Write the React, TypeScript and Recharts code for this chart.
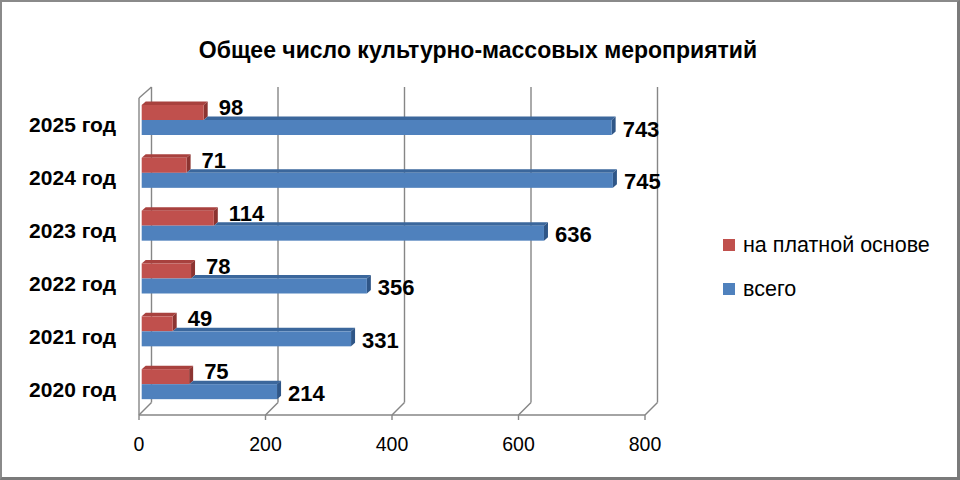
import React from 'react';
import { BarChart, Bar, XAxis, YAxis, CartesianGrid, LabelList } from 'recharts';

const years = ['2025 год', '2024 год', '2023 год', '2022 год', '2021 год', '2020 год'];
const paidValues = [98, 71, 114, 78, 49, 75];
const totalValues = [743, 745, 636, 356, 331, 214];
const xTicks = [0, 200, 400, 600, 800];
const paidName = 'на платной основе';
const totalName = 'всего';
const title = 'Общее число культурно-массовых мероприятий';

const data = years.map((year, i) => ({ year, paid: paidValues[i], total: totalValues[i] }));

const FONT = '"Liberation Sans", Arial, sans-serif';
const RED = '#C0504D';
const RED_TOP = '#A8413E';
const RED_SIDE = '#8C3431';
const BLUE = '#4F81BD';
const BLUE_TOP = '#3B679C';
const BLUE_SIDE = '#2F5687';
const GRID = '#868686';
const SHIFT_X = 2.7;
const SHIFT_Y = -4;
const DX = 4;
const DY = 3.5;

const PaidShape = (p: any) => {
  const x = p.x + SHIFT_X;
  const y = p.y + SHIFT_Y;
  const w = p.width;
  const h = p.height;
  return (
    <g>
      <polygon points={`${x},${y} ${x + DX},${y - DY} ${x + w + DX},${y - DY} ${x + w},${y}`} fill={RED_TOP} />
      <polygon points={`${x + w},${y} ${x + w + DX},${y - DY} ${x + w + DX},${y + h - DY} ${x + w},${y + h}`} fill={RED_SIDE} />
      <rect x={x} y={y} width={w} height={h} fill={RED} />
    </g>
  );
};

const TotalShape = (p: any) => {
  const x = p.x + SHIFT_X;
  const y = p.y + SHIFT_Y;
  const w = p.width;
  const h = p.height;
  const pl = p.payload || {};
  const redEnd = pl.total ? x + (w * pl.paid) / pl.total : x;
  return (
    <g>
      <polygon points={`${redEnd},${y} ${redEnd + DX},${y - DY} ${x + w + DX},${y - DY} ${x + w},${y}`} fill={BLUE_TOP} />
      <polygon points={`${x + w},${y} ${x + w + DX},${y - DY} ${x + w + DX},${y + h - DY} ${x + w},${y + h}`} fill={BLUE_SIDE} />
      <rect x={x} y={y} width={w} height={h} fill={BLUE} />
    </g>
  );
};

const PaidLabel = (p: any) => {
  const x = p.x + SHIFT_X + p.width + 15;
  const y = p.y + SHIFT_Y + p.height / 2 + 2.5;
  return (
    <text x={x} y={y} fontFamily={FONT} fontWeight="bold" fontSize={22} fill="#000">
      {p.value}
    </text>
  );
};

const TotalLabel = (p: any) => {
  const x = p.x + SHIFT_X + p.width + 11;
  const y = p.y + SHIFT_Y + p.height / 2 + 9;
  return (
    <text x={x} y={y} fontFamily={FONT} fontWeight="bold" fontSize={22} fill="#000">
      {p.value}
    </text>
  );
};

const YTick = (p: any) => (
  <text x={p.x} y={p.y + 8} textAnchor="end" fontFamily={FONT} fontWeight="bold" fontSize={21} fill="#000">
    {p.payload.value}
  </text>
);

const XTick = (p: any) => (
  <text x={p.x} y={p.y} dy="0.35em" textAnchor="middle" fontFamily={FONT} fontSize={19.5} fill="#000">
    {p.payload.value}
  </text>
);

const gridLine = (p: any) => {
  const fx = p.x1;
  const top = p.y1;
  const bottom = p.y2;
  const bx = fx + 12.5;
  return (
    <g>
      <line x1={bx} y1={top - 11} x2={bx} y2={bottom - 12.5} stroke={GRID} strokeWidth={1.4} />
      <line x1={fx} y1={bottom} x2={bx} y2={bottom - 12.5} stroke={GRID} strokeWidth={1.4} />
      {p.index === 0 ? <line x1={fx} y1={top} x2={bx} y2={top - 11} stroke={GRID} strokeWidth={1.4} /> : null}
    </g>
  );
};

const legendItems = [
  { name: paidName, color: RED },
  { name: totalName, color: BLUE },
];

const LegendBox = () => (
  <div style={{ position: 'absolute', left: 723, top: 233, width: 234 }}>
    {legendItems.map((it, i) => (
      <div
        key={it.name}
        style={{ display: 'flex', alignItems: 'center', height: 24, marginBottom: i === 0 ? 20 : 0 }}
      >
        <div style={{ width: 12, height: 12, background: it.color, marginRight: 8, flex: 'none' }} />
        <span style={{ fontFamily: FONT, fontSize: 21.5, lineHeight: '24px', color: '#000', whiteSpace: 'nowrap' }}>
          {it.name}
        </span>
      </div>
    ))}
  </div>
);

export default function App() {
  return (
    <div style={{ position: 'absolute', left: 0, top: 0, width: 960, height: 480, background: '#fff' }}>
      <div
        style={{
          position: 'absolute',
          left: 0,
          top: 0,
          width: 960,
          height: 480,
          boxSizing: 'border-box',
          borderLeft: '2px solid #8a8a8a',
          borderTop: '2px solid #8a8a8a',
          borderRight: '3px solid #7a7a7a',
          borderBottom: '3px solid #7a7a7a',
        }}
      />
      <svg style={{ position: 'absolute', left: 0, top: 0 }} width={960} height={80}>
        <text x={478} y={58} textAnchor="middle" fontFamily={FONT} fontWeight="bold" fontSize={23} fill="#000">
          {title}
        </text>
      </svg>
      <div style={{ position: 'absolute', left: 0, top: 0 }}>
        <BarChart
          width={960}
          height={480}
          data={data}
          layout="vertical"
          margin={{ top: 98, right: 315, bottom: 25, left: 0 }}
          barSize={15}
          barGap={0}
        >
          <CartesianGrid horizontal={false} vertical={gridLine} />
          <XAxis
            type="number"
            domain={[0, 800]}
            ticks={xTicks}
            interval={0}
            height={40}
            axisLine={{ stroke: GRID, strokeWidth: 1.4 }}
            tickLine={{ stroke: GRID, strokeWidth: 1.4 }}
            tickSize={5}
            tickMargin={24}
            tick={<XTick />}
          />
          <YAxis
            type="category"
            dataKey="year"
            width={139}
            axisLine={{ stroke: GRID, strokeWidth: 1.4 }}
            tickLine={false}
            tickSize={0}
            tickMargin={23}
            tick={<YTick />}
          />
          <Bar dataKey="paid" name={paidName} fill={RED} shape={<PaidShape />} isAnimationActive={false}>
            <LabelList dataKey="paid" content={<PaidLabel />} />
          </Bar>
          <Bar dataKey="total" name={totalName} fill={BLUE} shape={<TotalShape />} isAnimationActive={false}>
            <LabelList dataKey="total" content={<TotalLabel />} />
          </Bar>
        </BarChart>
      </div>
      <LegendBox />
    </div>
  );
}
